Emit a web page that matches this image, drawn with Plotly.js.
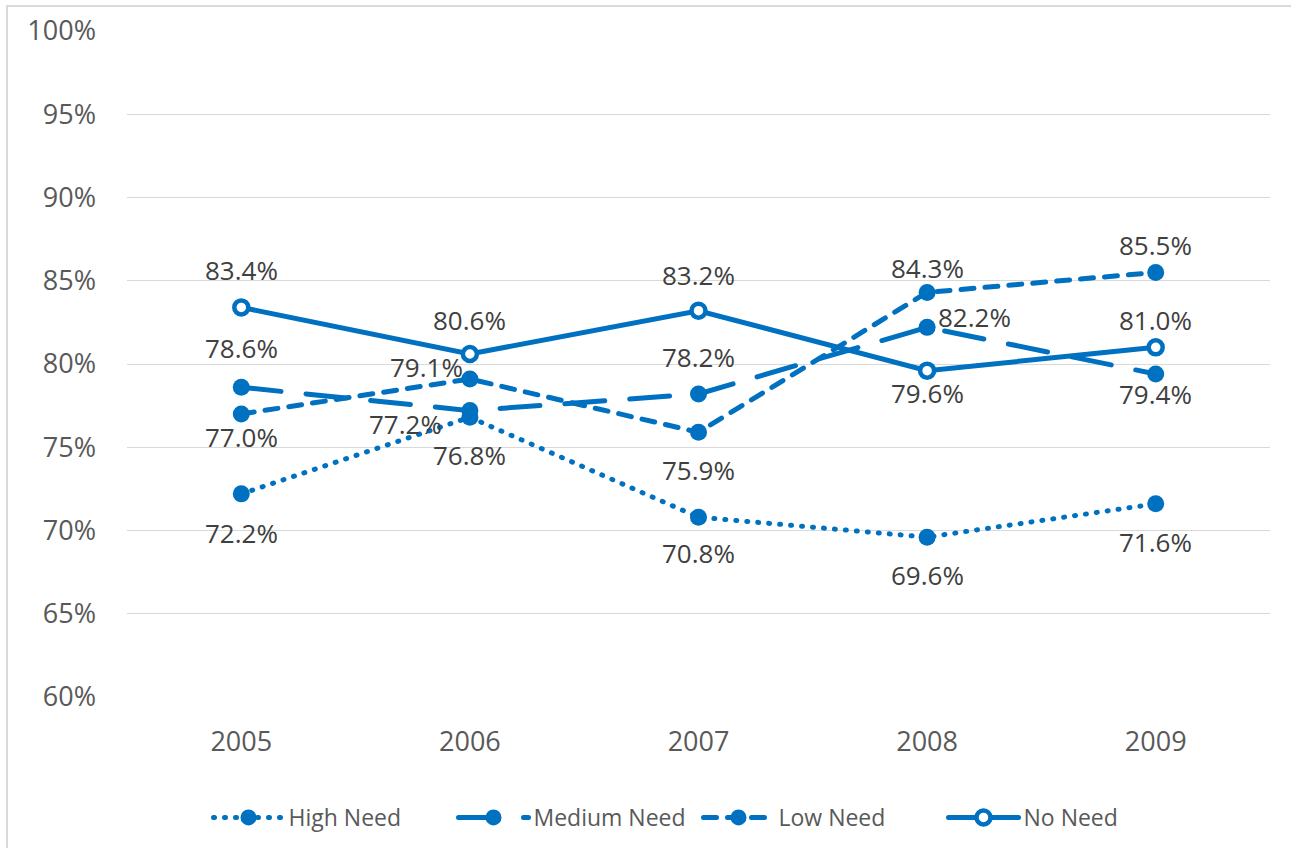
<!DOCTYPE html>
<html>
<head>
<meta charset="utf-8">
<script src="https://cdn.plot.ly/plotly-3.0.1.min.js"></script>
<style>
  html, body { margin: 0; padding: 0; background: #fff; }
  #wrap { position: relative; width: 1291px; height: 848px; overflow: hidden; }
  #frame { position: absolute; left: 6px; top: 5px; width: 1300px; height: 900px;
           border-left: 2px solid #D9D9D9; border-top: 2px solid #D9D9D9; pointer-events: none; }
  #chart { position: absolute; left: 0; top: 0; width: 1291px; height: 848px; }
  .scatterlayer .js-line, .legendlines path { stroke-linecap: round; }
</style>
</head>
<body>
<div id="wrap">
  <div id="chart"></div>
  <div id="frame"></div>
</div>
<script>
// ---- data ----
const years = ['2005', '2006', '2007', '2008', '2009'];
const seriesNames = ['High Need', 'Medium Need', 'Low Need', 'No Need'];
const highNeed   = [72.2, 76.8, 70.8, 69.6, 71.6];
const mediumNeed = [78.6, 77.2, 78.2, 82.2, 79.4];
const lowNeed    = [77.0, 79.1, 75.9, 84.3, 85.5];
const noNeed     = [83.4, 80.6, 83.2, 79.6, 81.0];
const yTickVals  = [60, 65, 70, 75, 80, 85, 90, 95, 100];
const yTickText  = ['60%', '65%', '70%', '75%', '80%', '85%', '90%', '95%', '100%'];

// ---- styling (label placement per point, in pixels) ----
const blue = '#0070C0';
const labelShift = {
  'High Need':   {dx: [0, 0, 0, 0, 0],        dy: [-39, -38, -36, -38, -38]},
  'Medium Need': {dx: [0, -64, 0, 47, 0],     dy: [39, -13, 37, 10, -20]},
  'Low Need':    {dx: [0, -43, 0, 0, 0],      dy: [-23, 12, -38, 24, 27]},
  'No Need':     {dx: [0, 0, 0, 0, 0],        dy: [37, 34, 36, -22, 27]}
};
const styles = {
  'High Need':   {dash: '1px,10px', mcolor: blue, mline: 0},
  'Medium Need': {dash: '40px,25px', mcolor: blue, mline: 0},
  'Low Need':    {dash: '13px,11px', mcolor: blue, mline: 0},
  'No Need':     {dash: 'solid', mcolor: '#ffffff', mline: 4.5}
};
const seriesData = {
  'High Need': highNeed, 'Medium Need': mediumNeed, 'Low Need': lowNeed, 'No Need': noNeed
};

const traces = seriesNames.map(name => {
  const s = styles[name];
  return {
    type: 'scatter', mode: 'lines+markers', name: name,
    x: years, y: seriesData[name],
    line: {color: blue, width: 5, dash: s.dash},
    marker: {symbol: 'circle', size: s.mline ? 14 : 17, color: s.mcolor,
             line: {color: blue, width: s.mline}},
    hoverinfo: 'skip'
  };
});

const annotations = [];
seriesNames.forEach(name => {
  seriesData[name].forEach((v, i) => {
    annotations.push({
      x: i, y: v, xref: 'x', yref: 'y',
      text: v.toFixed(1) + '%', showarrow: false,
      xshift: labelShift[name].dx[i], yshift: labelShift[name].dy[i],
      font: {family: 'Open Sans', size: 26, color: '#404040'}
    });
  });
});

const layout = {
  width: 1291, height: 848,
  margin: {l: 127, r: 21, t: 31, b: 151, autoexpand: false},
  paper_bgcolor: '#ffffff', plot_bgcolor: '#ffffff',
  font: {family: 'Open Sans', size: 26, color: '#595959'},
  showlegend: true,
  hovermode: false,
  legend: {
    orientation: 'h', x: 0.5, xanchor: 'center',
    yref: 'container', y: 0.036, yanchor: 'middle',
    font: {family: 'Open Sans', size: 23, color: '#595959'},
    itemwidth: 70, traceorder: 'normal', entrywidth: 160
  },
  xaxis: {
    type: 'category', range: [-0.5, 4.5], showgrid: false, zeroline: false,
    showline: false, ticks: '', ticklabelstandoff: 26,
    tickfont: {family: 'Open Sans', size: 27, color: '#595959'}
  },
  yaxis: {
    range: [60, 100], tickvals: yTickVals, ticktext: yTickText,
    showgrid: true, gridcolor: '#D9D9D9', gridwidth: 1.3, zeroline: false,
    showline: false, ticks: '', ticklabelstandoff: 30,
    tickfont: {family: 'Open Sans', size: 27, color: '#595959'}
  },
  annotations: annotations
};

Plotly.newPlot('chart', traces, layout, {displayModeBar: false});
</script>
</body>
</html>
